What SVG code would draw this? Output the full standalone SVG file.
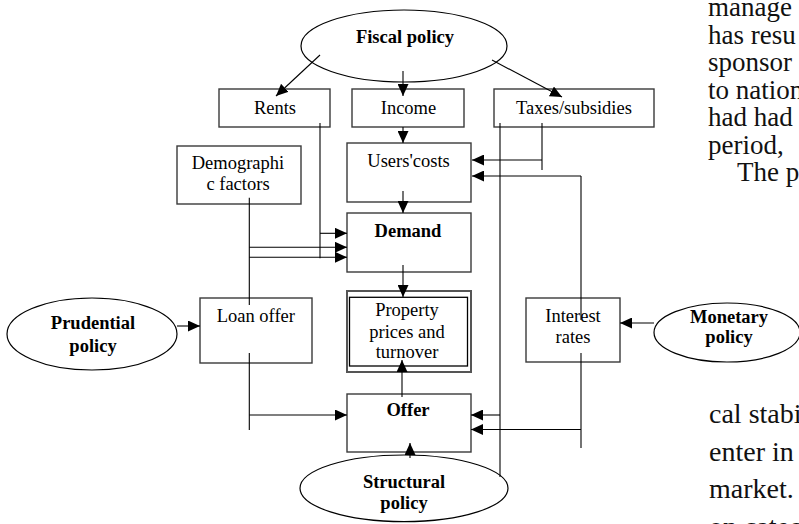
<svg xmlns="http://www.w3.org/2000/svg" width="799" height="524" viewBox="0 0 799 524">
<style>
.bx{fill:#fff;stroke:#3a3a3a;stroke-width:1.4}
.el{fill:#fff;stroke:#000;stroke-width:1.2}
.t{font-family:"Liberation Serif","Times New Roman",serif;font-size:18.5px;fill:#000;text-anchor:middle}
.b{font-weight:bold}
.ln{fill:none;stroke:#000;stroke-width:1.1}
.ar{fill:none;stroke:#000;stroke-width:1.1;marker-end:url(#ah)}
.pg{font-family:"Liberation Serif","Times New Roman",serif;fill:#111}
</style>
<defs>
<marker id="ah" viewBox="0 0 12 11" refX="12" refY="5.5" markerWidth="12" markerHeight="11" markerUnits="userSpaceOnUse" orient="auto">
<path d="M0,0 L12,5.5 L0,11 z" fill="#000"/>
</marker>
</defs>
<rect width="799" height="524" fill="#fff"/>

<g id="page-text" class="pg">
<text x="708" y="16" font-size="27">manage</text>
<text x="708" y="43.5" font-size="27">has resu</text>
<text x="708" y="71" font-size="27">sponsor</text>
<text x="708" y="98.5" font-size="27">to nation</text>
<text x="708" y="126" font-size="27">had had</text>
<text x="708" y="153.5" font-size="27">period,</text>
<text x="737" y="181" font-size="27">The po</text>
<text x="709" y="423" font-size="28">cal stabi</text>
<text x="709" y="461" font-size="28">enter in</text>
<text x="709" y="498" font-size="28">market.</text>
<text x="709" y="536" font-size="28">on catec</text>
</g>

<g id="fiscal">
<ellipse class="el" cx="404" cy="46" rx="103" ry="36"/>
<text class="t b" x="405" y="43">Fiscal policy</text>
</g>
<g id="rents">
<rect class="bx" x="219" y="89" width="111" height="38"/>
<text class="t" x="275" y="113.5">Rents</text>
</g>
<g id="income">
<rect class="bx" x="352" y="89" width="112" height="38"/>
<text class="t" x="408.5" y="113.5">Income</text>
</g>
<g id="taxes">
<rect class="bx" x="494" y="89" width="160" height="38"/>
<text class="t" x="574" y="113.5">Taxes/subsidies</text>
</g>
<g id="demographic">
<rect class="bx" x="177" y="146" width="124" height="58"/>
<text class="t" x="238" y="169.3">Demographi</text>
<text class="t" x="238" y="190">c factors</text>
</g>
<g id="users-costs">
<rect class="bx" x="347" y="143" width="124" height="59"/>
<text class="t" x="408.5" y="167.3">Users'costs</text>
</g>
<g id="demand">
<rect class="bx" x="347" y="213" width="124" height="59"/>
<text class="t b" x="408" y="237.3">Demand</text>
</g>
<g id="property">
<rect x="347" y="291" width="124" height="81" fill="#fff" stroke="#555" stroke-width="2"/>
<rect x="349.5" y="297.3" width="118" height="68.7" fill="none" stroke="#000" stroke-width="1.3"/>
<text class="t" x="407" y="316">Property</text>
<text class="t" x="407" y="338.3">prices and</text>
<text class="t" x="407" y="358.3">turnover</text>
</g>
<g id="prudential">
<ellipse class="el" cx="92" cy="334" rx="85" ry="36"/>
<text class="t b" x="93" y="329">Prudential</text>
<text class="t b" x="93" y="352">policy</text>
</g>
<g id="loan-offer">
<rect class="bx" x="200" y="298" width="112" height="65"/>
<text class="t" x="255.8" y="322">Loan offer</text>
</g>
<g id="interest">
<rect class="bx" x="526" y="298" width="94" height="64"/>
<text class="t" x="573" y="322">Interest</text>
<text class="t" x="573" y="343">rates</text>
</g>
<g id="monetary">
<ellipse class="el" cx="727" cy="332.5" rx="73" ry="29.5"/>
<text class="t b" x="729" y="323">Monetary</text>
<text class="t b" x="729" y="343">policy</text>
</g>
<g id="offer">
<rect class="bx" x="347" y="394" width="124" height="58"/>
<text class="t b" x="408" y="416">Offer</text>
</g>
<g id="structural">
<ellipse class="el" cx="404" cy="488.3" rx="104" ry="33.3"/>
<text class="t b" x="404" y="488">Structural</text>
<text class="t b" x="404" y="509">policy</text>
</g>

<g id="connectors">
<path class="ar" d="M320,55 L276,96"/>
<path class="ar" d="M403,71 L403,96"/>
<path class="ar" d="M492,60 L562,97"/>
<path class="ar" d="M403,127 L403,143"/>
<path class="ar" d="M403,191 L403,213"/>
<path class="ar" d="M403,265 L403,297"/>
<path class="ar" d="M402,397 L402,360"/>
<path class="ar" d="M410,458 L410,443"/>
<path class="ln" d="M320,123 L320,258.3"/>
<path class="ar" d="M320,233.3 L347,233.3"/>
<path class="ln" d="M249.3,197.7 L249.3,305"/>
<path class="ar" d="M249.3,247.3 L347,247.3"/>
<path class="ar" d="M249.3,257.3 L347,257.3"/>
<path class="ar" d="M177,326 L200,326"/>
<path class="ln" d="M249.3,353 L249.3,430"/>
<path class="ar" d="M249.3,415 L347,415"/>
<path class="ln" d="M542,123 L542,170"/>
<path class="ar" d="M542,160 L472,160"/>
<path class="ln" d="M500,123 L500,477"/>
<path class="ar" d="M500,415 L471,415"/>
<path class="ar" d="M581,176 L472,176"/>
<path class="ln" d="M581,176 L581,320"/>
<path class="ln" d="M581,353 L581,448"/>
<path class="ar" d="M581,429.5 L471,429.5"/>
<path class="ar" d="M654,323 L620,323"/>
</g>
</svg>
